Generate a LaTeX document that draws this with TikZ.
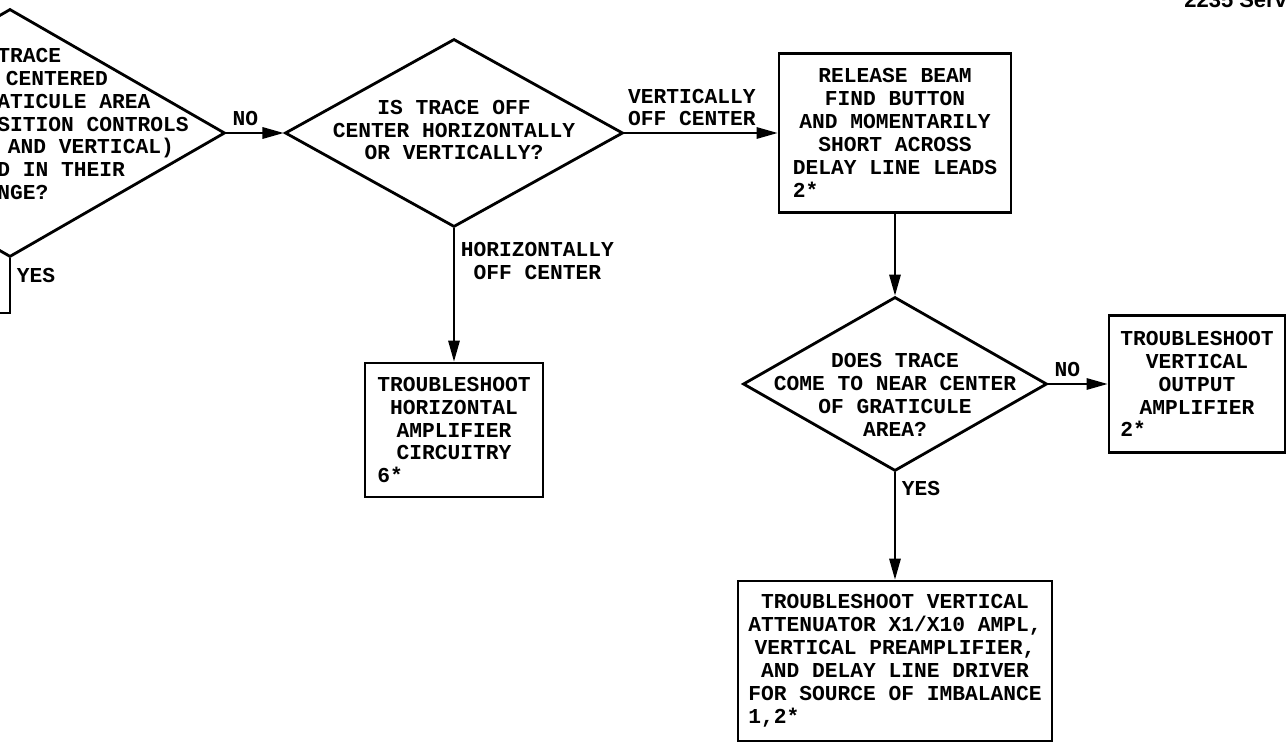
\documentclass[tikz,border=0pt]{standalone}
\usepackage{fontspec}
\usepackage{tikz}
\usetikzlibrary{shapes.geometric, arrows.meta, positioning}
\newfontfamily\stencil{Liberation Mono}
\newfontfamily\headfont{Liberation Sans}
\newcommand{\qfont}{\stencil\bfseries\fontsize{12.1pt}{13.05pt}\selectfont}
\tikzstyle{arrow} = [line width=1.1pt,->,>={Stealth[length=12pt,width=6.5pt,inset=0pt]}]
\tikzstyle{flowline} = [line width=1.1pt]
\tikzstyle{decision} = [diamond, draw=black, line width=1.6pt, inner sep=0pt]
\tikzstyle{process} = [rectangle, draw=black, line width=1.6pt, align=center]
\tikzstyle{qtext} = [align=center]

\begin{document}
\begin{tikzpicture}[node distance=2cm, font=\qfont]

% Page frame
\useasboundingbox (-0.2,2.66) rectangle (25.54,-12.24);
\clip (-0.2,2.66) rectangle (25.54,-12.24);

% Decisions
\node (centered) [decision, minimum width=8.6cm, minimum height=4.96cm, label={[qtext, align=left, xshift=1.66cm, yshift=0.18cm]center:TRACE\\\hspace*{0.4em}CENTERED\\ATICULE AREA\\SITION CONTROLS\\\hspace*{0.5em}AND VERTICAL)\\D IN THEIR\\NGE?}] {};
\node (offcenter) [decision, right of=centered, xshift=6.88cm, minimum width=6.76cm, minimum height=3.76cm, label={[qtext, yshift=0.06cm]center:IS TRACE OFF\\CENTER HORIZONTALLY\\OR VERTICALLY?}] {};

% Actions
\node (release) [process, right of=offcenter, xshift=6.82cm, minimum width=4.64cm, minimum height=3.18cm] {RELEASE BEAM\\FIND BUTTON\\AND MOMENTARILY\\SHORT ACROSS\\DELAY LINE LEADS\\\makebox[9.6em][l]{2*}};
\node (horizamp) [process, below of=offcenter, yshift=-3.94cm, minimum width=3.56cm, minimum height=2.68cm] {TROUBLESHOOT\\HORIZONTAL\\AMPLIFIER\\CIRCUITRY\\\makebox[7.2em][l]{6*}};
\node (nearcenter) [decision, below of=release, yshift=-3.02cm, minimum width=6.08cm, minimum height=3.48cm, label={[qtext, yshift=-0.22cm]center:DOES TRACE\\COME TO NEAR CENTER\\OF GRATICULE\\AREA?}] {};
\node (vertout) [process, right of=nearcenter, xshift=4.04cm, minimum width=3.52cm, minimum height=2.74cm] {TROUBLESHOOT\\VERTICAL\\OUTPUT\\AMPLIFIER\\\makebox[7.2em][l]{2*}};
\node (imbalance) [process, below of=nearcenter, yshift=-3.54cm, minimum width=6.28cm, minimum height=3.2cm] {TROUBLESHOOT VERTICAL\\ATTENUATOR X1/X10 AMPL,\\VERTICAL PREAMPLIFIER,\\AND DELAY LINE DRIVER\\FOR SOURCE OF IMBALANCE\\\makebox[13.8em][l]{1,2*}};

% Page heading
\node (pagehead) [anchor=base west, inner sep=0pt, font=\headfont\bfseries\fontsize{12.5pt}{14pt}\selectfont] at (23.48,2.5) {2235 Serv};

% Flow
\coordinate (yesexit) at (-0.8,-3.6);
\draw [flowline] (centered) |- node[right, pos=0.16] {YES} (yesexit);
\draw [arrow] (centered) -- node[above, pos=0.33] {NO} (offcenter);
\draw [arrow] (offcenter) -- node[above, align=left, pos=0.44] {VERTICALLY\\OFF CENTER} (release);
\draw [arrow] (offcenter) -- node[below right, align=center, pos=0.05] {HORIZONTALLY\\OFF CENTER} (horizamp);
\draw [arrow] (release) -- (nearcenter);
\draw [arrow] (nearcenter) -- node[above, pos=0.32] {NO} (vertout);
\draw [arrow] (nearcenter) -- node[below right, pos=0.02] {YES} (imbalance);

\end{tikzpicture}
\end{document}
